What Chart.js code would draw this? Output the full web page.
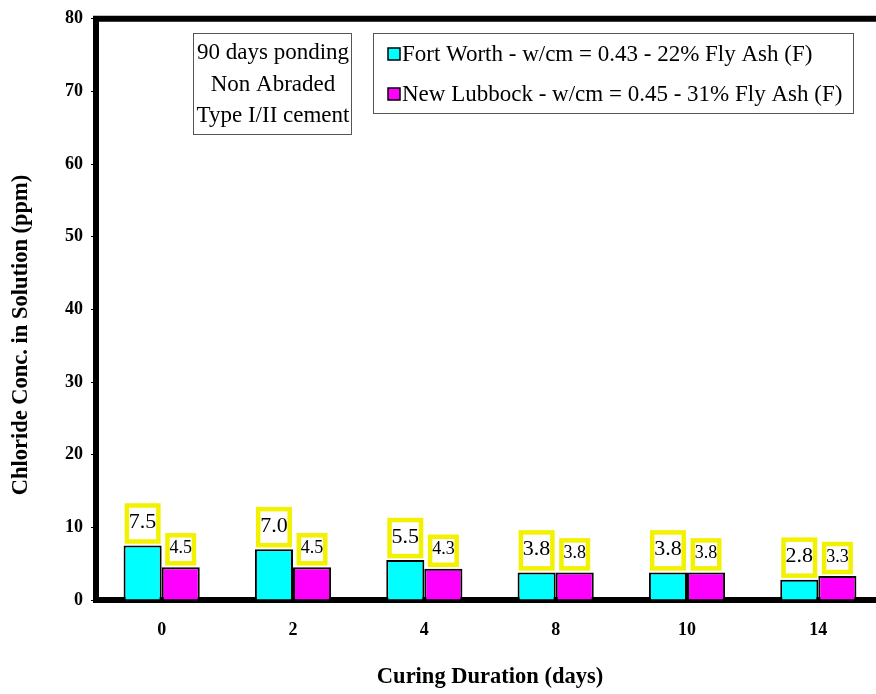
<!DOCTYPE html>
<html>
<head>
<meta charset="utf-8">
<script src="https://cdn.jsdelivr.net/npm/chart.js@4.4.1/dist/chart.umd.min.js"></script>
<style>
  html, body { margin: 0; padding: 0; background: #fff; overflow: hidden; }
  #wrap { width: 890px; height: 694px; }
</style>
</head>
<body>
<div id="wrap"><canvas id="myChart" width="890" height="694"></canvas></div>
<script>
// chart values
const curingDays = ['0', '2', '4', '8', '10', '14'];
const fortWorth = [7.5, 7.0, 5.5, 3.8, 3.8, 2.8];
const newLubbock = [4.5, 4.5, 4.3, 3.8, 3.8, 3.3];
const seriesNames = [
    'Fort Worth - w/cm = 0.43 - 22% Fly Ash (F)',
    'New Lubbock - w/cm = 0.45 - 31% Fly Ash (F)'
];
const noteLines = ['90 days ponding', 'Non Abraded', 'Type I/II cement'];
const yTitle = 'Chloride Conc. in Solution (ppm)';

const serif = '"Liberation Serif", "Times New Roman", serif';

// yellow boxed value labels above each bar
const valueBoxes = {
    id: 'valueBoxes',
    afterDatasetsDraw(chart) {
        const ctx = chart.ctx;
        chart.data.datasets.forEach((ds, i) => {
            const meta = chart.getDatasetMeta(i);
            const size = i === 0 ? 22 : 18;
            ctx.save();
            ctx.font = size + 'px ' + serif;
            ctx.textAlign = 'center';
            ctx.textBaseline = 'middle';
            meta.data.forEach((bar, j) => {
                const txt = ds.data[j].toFixed(1);
                const w = ctx.measureText(txt).width + 4;
                const h = i === 0 ? 36 : 28;
                const bottom = bar.y - 4;
                const top = bottom - h;
                ctx.fillStyle = '#fff';
                ctx.fillRect(bar.x - w / 2, top, w, h);
                ctx.strokeStyle = '#f2f200';
                ctx.lineWidth = 4.5;
                ctx.strokeRect(bar.x - w / 2, top, w, h);
                ctx.fillStyle = '#000';
                ctx.fillText(txt, bar.x, top + h / 2 - 1);
            });
            ctx.restore();
        });
    }
};

// top frame line, y title (sits a bit below the middle), note box and legend box
const frameAndBoxes = {
    id: 'frameAndBoxes',
    afterDraw(chart) {
        const ctx = chart.ctx;
        const a = chart.chartArea;
        ctx.save();
        ctx.strokeStyle = '#000';
        ctx.lineWidth = 6;
        ctx.beginPath();
        ctx.moveTo(a.left - 3, a.top);
        ctx.lineTo(chart.width, a.top);
        ctx.stroke();

        // y axis title
        ctx.save();
        ctx.translate(21, a.bottom - 265);
        ctx.rotate(-Math.PI / 2);
        ctx.font = 'bold 22.5px ' + serif;
        ctx.fillStyle = '#000';
        ctx.textAlign = 'center';
        ctx.textBaseline = 'middle';
        ctx.fillText(yTitle, 0, 0);
        ctx.restore();

        // note box
        ctx.lineWidth = 1;
        ctx.strokeStyle = '#555';
        const nx = a.left + 97, ny = 33;
        ctx.fillStyle = '#fff';
        ctx.fillRect(nx, ny, 158, 101);
        ctx.strokeRect(nx + 0.5, ny + 0.5, 158, 101);
        ctx.fillStyle = '#000';
        ctx.font = '23px ' + serif;
        ctx.textAlign = 'center';
        ctx.textBaseline = 'middle';
        noteLines.forEach((t, k) => ctx.fillText(t, nx + 80, ny + 20 + k * 31.5));

        // legend box
        const lx = a.left + 277, ly = 33;
        ctx.fillStyle = '#fff';
        ctx.fillRect(lx, ly, 480, 80);
        ctx.strokeRect(lx + 0.5, ly + 0.5, 480, 80);
        ctx.textAlign = 'left';
        chart.data.datasets.forEach((ds, k) => {
            const cy = ly + 21 + k * 40;
            ctx.fillStyle = ds.backgroundColor;
            ctx.fillRect(lx + 15, cy - 6, 12, 12);
            ctx.lineWidth = 1.5;
            ctx.strokeStyle = '#000';
            ctx.strokeRect(lx + 15, cy - 6, 12, 12);
            ctx.fillStyle = '#000';
            ctx.fillText(seriesNames[k], lx + 29, cy + 1);
        });
        ctx.restore();
    }
};

const data = {
    labels: curingDays,
    datasets: [{
        label: seriesNames[0],
        data: fortWorth,
        backgroundColor: '#00ffff',
        borderColor: '#000',
        borderWidth: 2
    },
    {
        label: seriesNames[1],
        data: newLubbock,
        backgroundColor: '#ff00ff',
        borderColor: '#000',
        borderWidth: 2
    }]
};

const config = {
    type: 'bar',
    data: data,
    options: {
        responsive: false,
        animation: false,
        layout: { padding: { top: 15, right: 6, bottom: 0, left: 0 } },
        datasets: { bar: { barPercentage: 1, categoryPercentage: 0.58 } },
        plugins: {
            legend: { display: false },
            tooltip: { enabled: false }
        },
        scales: {
            x: {
                grid: { display: false, drawTicks: false },
                border: { color: '#000', width: 6 },
                ticks: {
                    color: '#000',
                    padding: 20,
                    font: { family: serif, size: 18, weight: 'bold' }
                },
                title: {
                    display: true,
                    text: 'Curing Duration (days)',
                    color: '#000',
                    padding: { top: 0, bottom: 3 },
                    font: { family: serif, size: 22.5, weight: 'bold' }
                },
                afterFit(scale) { scale.height = 94; }
            },
            y: {
                min: 0,
                max: 80,
                grid: { drawOnChartArea: false, tickLength: 5, color: '#000', tickWidth: 1 },
                border: { color: '#000', width: 6 },
                ticks: {
                    stepSize: 10,
                    color: '#000',
                    padding: 8,
                    font: { family: serif, size: 18, weight: 'bold' }
                },
                afterFit(scale) { scale.width = 96; }
            }
        }
    },
    plugins: [valueBoxes, frameAndBoxes]
};

const myChart = new Chart(document.getElementById('myChart'), config);
</script>
</body>
</html>
